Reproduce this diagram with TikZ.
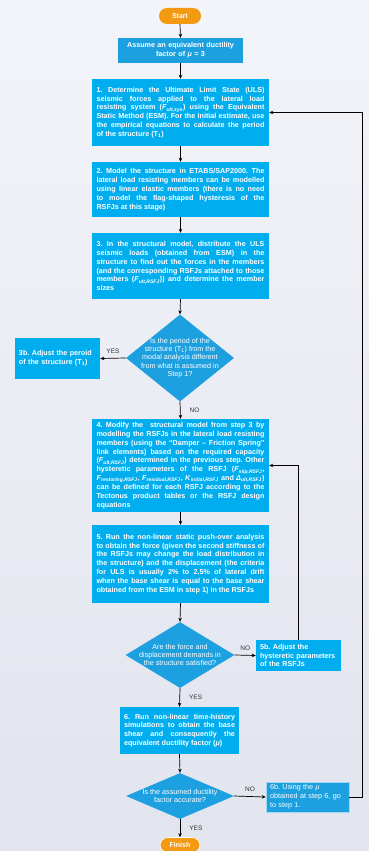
\documentclass[tikz,border=0pt]{standalone}
\usepackage{fontspec}
\setmainfont{Liberation Sans}
\definecolor{flujoCian}{HTML}{00AEEF}
\definecolor{flujoAzul}{HTML}{1DA0E0}
\definecolor{flujoNaranja}{HTML}{F39A12}
\definecolor{flujoFondoA}{HTML}{F3F4F9}
\definecolor{flujoFondoB}{HTML}{E2E4EE}
\definecolor{flujoTexto}{HTML}{333333}
\usetikzlibrary{
	arrows.meta,
	positioning,
	calc,
	shapes.geometric
}
\frenchspacing
\newcommand{\fsub}[2]{\textit{#1}\textsubscript{\textit{#2}}}
\newcommand{\letraPaso}{\fontsize{7.2}{8.9}\selectfont\bfseries\hyphenpenalty=10000\relax}
\newcommand{\lb}{\linebreak}
\tikzset{
	paso/.style={fill=flujoCian, text=white, align=justify, font=\letraPaso,
		text width=168pt, inner xsep=4.5pt, inner ysep=2pt},
	ajuste/.style={paso, align=left, text width=77pt, inner xsep=4pt},
	terminal/.style={fill=flujoNaranja, text=white, rounded corners=8pt,
		font=\fontsize{7}{8}\selectfont\bfseries, inner sep=0pt},
	decision/.style={diamond, fill=flujoAzul, inner sep=0pt},
	pregunta/.style={text=white, align=center, inner sep=0pt,
		font=\fontsize{7.2}{8.3}\selectfont},
	etiqueta/.style={text=flujoTexto, font=\fontsize{6.5}{7}\selectfont, inner sep=1pt},
	flecha/.style={-{Stealth[length=4pt,width=3.5pt]}, line width=0.7pt, black}
}
\begin{document}
\begin{tikzpicture}[x=1pt, y=-1pt]
		
		% Fondo
		\useasboundingbox (0,0) rectangle (369,851);
		\fill[top color=flujoFondoA, bottom color=flujoFondoB] (0,0) rectangle (369,851);
		
		% Inicio y supuesto
		\node[terminal, minimum width=42pt, minimum height=16pt] (inicio) at (180,16) {Start};
		\node[paso, fill=flujoAzul, align=center, text width=116pt, minimum height=25pt] (asumir) at (180.5,50.5)
			{Assume an equivalent ductility\\factor of \textit{μ} = 3};
		
		% Pasos principales
		\node[paso, minimum height=67pt] (paso1) at (180.5,112.5)
			{1. Determine the Ultimate Limit State (ULS)\lb{} seismic forces applied to the lateral load\lb{} resisting system (\fsub{F}{ult,sys}) using the Equivalent\lb{} Static Method (ESM). For the initial estimate, use\lb{} the empirical equations to calculate the period\lb{} of the structure (T\textsubscript{1})};
		\node[paso, minimum height=55pt] (paso2) at (180.5,189.5)
			{2. Model the structure in ETABS/SAP2000. The\lb{} lateral load resisting members can be modelled\lb{} using linear elastic members (there is no need\lb{} to model the flag-shaped hysteresis of the\lb{} RSFJs at this stage)};
		\node[paso, minimum height=66pt] (paso3) at (180.5,266)
			{3. In the structural model, distribute the ULS\lb{} seismic loads (obtained from ESM) in the\lb{} structure to find out the forces in the members\lb{} (and the corresponding RSFJs attached to those\lb{} members (\fsub{F}{ult,RSFJ})) and determine the member\lb{} sizes};
		
		% Primera decision
		\node[decision, minimum width=108pt, minimum height=87pt] (dec1) at (180,358) {};
		\node[pregunta] at (dec1) {Is the period of the\\structure (T\textsubscript{1}) from the\\modal analysis different\\from what is assumed in\\Step 1?};
		\node[ajuste, minimum height=41pt] (paso3b) at (57.5,358.5)
			{3b. Adjust the peroid\\of the structure (T\textsubscript{1})};
		
		\node[paso, minimum height=93pt] (paso4) at (180.5,465.5)
			{4. Modify the\ \ structural model from step 3 by\lb{} modelling the RSFJs in the lateral load resisting\lb{} members (using the “Damper – Friction Spring”\lb{} link elements) based on the required capacity\lb{} (\fsub{F}{ult,RSFJ}) determined in the previous step. Other\lb{} hysteretic parameters of the RSFJ (\fsub{F}{slip,RSFJ},\lb{} \fsub{F}{restoring,RSFJ}, \fsub{F}{residual,RSFJ}, \fsub{K}{initial,RSFJ} and \fsub{Δ}{ult,RSFJ})\lb{} can be defined for each RSFJ according to the\lb{} Tectonus product tables or the RSFJ design\lb{} equations};
		\node[paso, minimum height=78pt] (paso5) at (180.5,564)
			{5. Run the non-linear static push-over analysis\lb{} to obtain the force (given the second stiffness of\lb{} the RSFJs may change the load distribution in\lb{} the structure) and the displacement (the criteria\lb{} for ULS is usually 2\% to 2.5\% of lateral drift\lb{} when the base shear is equal to the base shear\lb{} obtained from the ESM in step 1) in the RSFJs};
		
		% Segunda decision
		\node[decision, minimum width=109pt, minimum height=66pt] (dec2) at (180,655) {};
		\node[pregunta] at (dec2) {Are the force and\\displacement demands in\\the structure satisfied?};
		\node[ajuste, minimum height=31pt] (paso5b) at (298.5,655.5)
			{5b. Adjust the\\hysteretic parameters\\of the RSFJs};
		
		\node[paso, text width=111pt, inner xsep=4pt, minimum height=47pt] (paso6) at (179.5,730.5)
			{6. Run non-linear time-history\lb{} simulations to obtain the base\lb{} shear and consequently the\lb{} equivalent ductility factor (\textit{μ})};
		
		% Tercera decision
		\node[decision, minimum width=108pt, minimum height=46pt] (dec3) at (180,796) {};
		\node[pregunta] at (dec3) {Is the assumed ductility\\factor accurate?};
		\node[ajuste, fill=flujoAzul, draw=white!60!flujoAzul, line width=0.6pt, text width=75pt,
			font=\fontsize{7.2}{8.9}\selectfont\mdseries, minimum height=30pt] (paso6b) at (307.5,797)
			{6b. Using the \textit{μ}\\obtained at step 6, go\\to step 1.};
		\node[terminal, draw=white, line width=0.6pt, minimum width=40pt, minimum height=15pt] (fin) at (180,845) {Finish};
		
		% Flechas
		\foreach \a/\b in {inicio/asumir,asumir/paso1,paso1/paso2,paso2/paso3,paso3/dec1,paso4/paso5,paso5/dec2,paso6/dec3}
			\draw[flecha] (\a.south) -- (\b.north);
		\draw[flecha] (dec1.south) -- node[etiqueta, right=8pt] {NO} (paso4.north);
		\draw[flecha] (dec2.south) -- node[etiqueta, right=8pt] {YES} (paso6.north);
		\draw[flecha] (dec3.south) -- node[etiqueta, right=8pt] {YES} (fin.north);
		\draw[flecha] (dec1.west) -- node[etiqueta, above=3pt] {YES} (paso3b.east);
		\draw[flecha] (dec2.east) -- node[etiqueta, above=3pt] {NO} (paso5b.west);
		\draw[flecha] (dec3.east) -- node[etiqueta, above=4pt] {NO} (paso6b.west);
		
		% Lazos de retorno
		\draw[flecha] (paso5b.north) |- (paso4.east);
		\draw[flecha] (paso6b.east) -- ++(13,0) |- (paso1.east);
		
	\end{tikzpicture}
\end{document}
